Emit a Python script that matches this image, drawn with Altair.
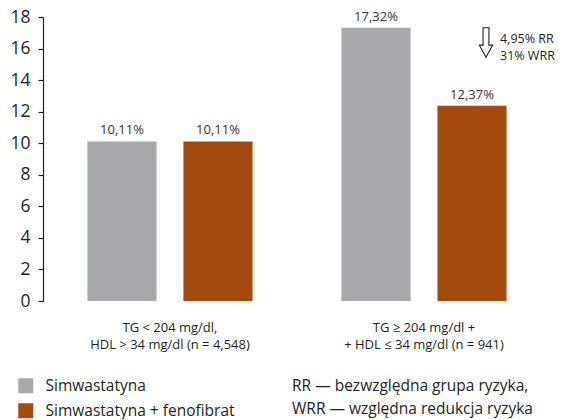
import altair as alt
import pandas as pd

groups = ["TG < 204 mg/dl,|HDL > 34 mg/dl (n = 4,548)",
          "TG ≥ 204 mg/dl +|+ HDL ≤ 34 mg/dl (n = 941)"]
series = ["Simwastatyna", "Simwastatyna + fenofibrat"]
simva = [10.11, 17.32]
simva_feno = [10.11, 12.37]
simva_labels = ["10,11%", "17,32%"]
feno_labels = ["10,11%", "12,37%"]
colors = ["#a7a8ac", "#a54a0e"]
y_ticks = [0, 2, 4, 6, 8, 10, 12, 14, 16, 18]
arrow_note = ["4,95% RR", "31% WRR"]
footnote = ["RR — bezwzględna grupa ryzyka,", "WRR — względna redukcja ryzyka"]

rows = []
for i, g in enumerate(groups):
    rows.append({"group": g, "series": series[0], "value": simva[i], "label": simva_labels[i]})
    rows.append({"group": g, "series": series[1], "value": simva_feno[i], "label": feno_labels[i]})
df = pd.DataFrame(rows)
one = pd.DataFrame({"k": [0]})

FONT = "Open Sans"
TXT = "#231f20"

x = alt.X("group:N", sort=groups, title=None,
          scale=alt.Scale(paddingInner=0.35, paddingOuter=0.175),
          axis=alt.Axis(labelExpr="split(datum.label, '|')", labelAngle=0,
                        domain=False, ticks=False, tickSize=0, labelPadding=20,
                        labelFont=FONT, labelFontSize=13, labelLineHeight=17,
                        labelColor=TXT, labelBaseline="top", labelLimit=400))
xo = alt.XOffset("series:N", sort=series,
                 scale=alt.Scale(paddingInner=0.28, paddingOuter=0))
y = alt.Y("value:Q", title=None,
          scale=alt.Scale(domain=[0, 18], nice=False),
          axis=alt.Axis(values=y_ticks, grid=False, domainColor=TXT, tickColor=TXT,
                        tickSize=5, labelPadding=8, labelFont=FONT, labelFontSize=17.5,
                        labelColor=TXT, domainWidth=1.2, tickWidth=1.2))

bars = alt.Chart(df).mark_bar().encode(
    x=x, xOffset=xo, y=y,
    color=alt.Color("series:N", sort=series,
                    scale=alt.Scale(domain=series, range=colors),
                    legend=alt.Legend(title=None, orient="none", legendX=-25, legendY=361,
                                      symbolType="square", symbolSize=225,
                                      symbolStrokeWidth=0, rowPadding=8,
                                      labelFont=FONT, labelFontSize=15.5, labelColor=TXT,
                                      labelOffset=12, padding=0, labelLimit=400)),
)

labels = alt.Chart(df).mark_text(font=FONT, fontSize=13, color="#333333",
                                 baseline="alphabetic", dy=-7).encode(
    x=x, xOffset=xo, y=y, text="label:N")

arrow_path = "M -0.2 -1 L 0.2 -1 L 0.2 0.18 L 0.45 0.18 L 0 1 L -0.45 0.18 L -0.2 0.18 Z"
arrow = alt.Chart(one).mark_point(shape=arrow_path, filled=False, stroke=TXT,
                                  strokeWidth=1.1, size=870, opacity=1).encode(
    x=alt.value(443), y=alt.value(25.5))

note = alt.Chart(one).mark_text(font=FONT, fontSize=12.5, color=TXT, align="left",
                                baseline="middle", lineHeight=17).encode(
    x=alt.value(457), y=alt.value(22), text=alt.value(arrow_note))

foot = alt.Chart(one).mark_text(font=FONT, fontSize=15.5, color=TXT, align="left",
                                baseline="middle", lineHeight=23).encode(
    x=alt.value(249), y=alt.value(369), text=alt.value(footnote))

chart = alt.layer(bars, labels, arrow, note, foot).properties(
    width=508, height=284,
    padding={"left": 35, "top": 9, "right": 7, "bottom": 118},
    autosize=alt.AutoSizeParams(type="none"),
).configure_view(stroke=None)

chart.save("out.html", embed_options={"renderer": "svg", "actions": False})
